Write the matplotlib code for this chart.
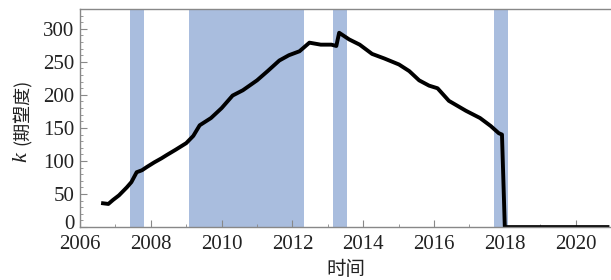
import numpy as np
import matplotlib.pyplot as plt
import matplotlib.transforms as mtransforms
from matplotlib.ticker import MultipleLocator

# time (year) and k values
years = [2006.65, 2006.8, 2006.93, 2007.1, 2007.32, 2007.45, 2007.6, 2007.75, 2007.89,
         2008.1, 2008.3, 2008.45, 2008.7, 2009.0, 2009.2, 2009.38, 2009.7, 2010.0,
         2010.31, 2010.6, 2011.0, 2011.3, 2011.63, 2011.9, 2012.2, 2012.48, 2012.8,
         2013.1, 2013.24, 2013.32, 2013.6, 2013.9, 2014.25, 2014.6, 2015.01, 2015.3,
         2015.58, 2015.86, 2016.1, 2016.42, 2016.9, 2017.3, 2017.6, 2017.83, 2017.92,
         2018.0, 2019.0, 2020.0, 2020.9]
k_vals = [36, 35, 41, 48, 60, 68, 83, 86, 91,
          98, 104, 109, 117, 127, 138, 154, 165, 180,
          199, 207, 222, 236, 252, 260, 266, 279, 276,
          276, 274, 294, 284, 276, 262, 255, 246, 236,
          222, 214, 210, 191, 176, 165, 153, 142, 140,
          0, 0, 0, 0]

# shaded periods
shade_start = [2007.41, 2009.07, 2013.15, 2017.69]
shade_end = [2007.80, 2012.34, 2013.55, 2018.08]

fig = plt.figure(figsize=(6.11, 2.8), dpi=100)
ax = fig.add_axes([0.131, 0.189, 0.869, 0.779])

for s, e in zip(shade_start, shade_end):
    ax.axvspan(s, e, color='#a9bdde', lw=0)

ax.plot(years, k_vals, color='black', lw=2.8, solid_joinstyle='round')

ax.set_xlim(2006, 2021)
ax.set_ylim(0, 330)
ax.set_xticks(np.arange(2006, 2021, 2))
ax.set_yticks(np.arange(0, 301, 50))
ax.xaxis.set_minor_locator(MultipleLocator(1))
ax.yaxis.set_minor_locator(MultipleLocator(10))
ax.tick_params(which='both', direction='in', color='#888888', top=False, right=False)
ax.tick_params(which='major', length=5, labelsize=15)
ax.tick_params(axis='x', pad=6)
ax.tick_params(axis='y', pad=4)
ax.tick_params(which='minor', length=2.5)
for lab in ax.get_xticklabels() + ax.get_yticklabels():
    lab.set_family(['Liberation Serif', 'DejaVu Serif'])
    lab.set_color('#222222')

# the "0" sits a little higher, as in the original
zero_lab = ax.get_yticklabels()[0]
zero_lab.set_transform(zero_lab.get_transform() +
                       mtransforms.ScaledTranslation(0, 4 / 72, fig.dpi_scale_trans))

for side in ['left', 'bottom', 'top']:
    ax.spines[side].set_color('#888888')
    ax.spines[side].set_linewidth(1.0)
ax.spines['right'].set_visible(False)

ax.set_xlabel('时间', family=['Noto Sans CJK SC'], fontsize=14, labelpad=3, color='#222222')

fig.text(0.036, 0.44, 'k', rotation=90, family=['Liberation Serif'], style='italic',
         fontsize=16, ha='center', va='center', color='#222222')
fig.text(0.036, 0.60, '(期望度)', rotation=90, family=['Noto Sans CJK SC'],
         fontsize=13, ha='center', va='center', color='#222222')

fig.savefig('out.png', dpi=100)
